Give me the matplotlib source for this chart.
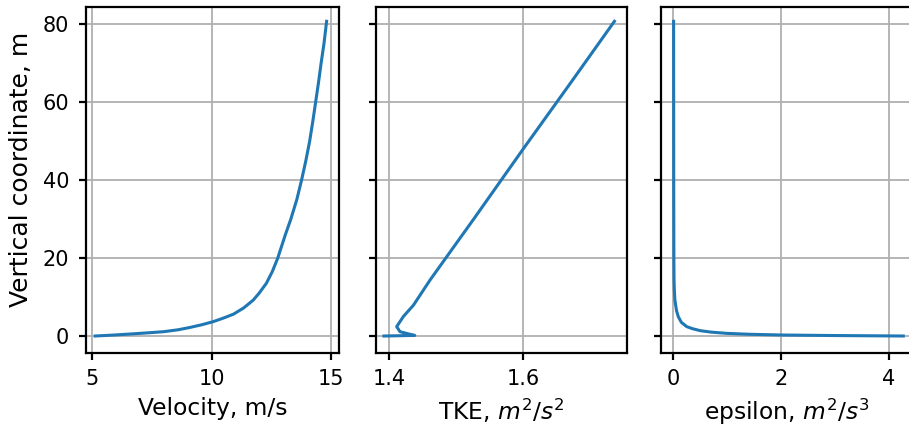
import matplotlib
matplotlib.use("Agg")
import matplotlib.pyplot as plt

# Velocity profile (height m, velocity m/s)
z_vel = [0.0, 0.25, 0.51, 0.8, 1.1, 1.6, 2.2, 2.9, 3.7, 4.6, 5.6, 7.2, 9.2, 11.0, 13.5,
         16.5, 20.0, 26.0, 30.0, 35.0, 40.0, 45.0, 50.0, 55.0, 60.0, 65.0, 70.0, 75.0, 80.7]
velocity = [5.12, 5.9, 6.58, 7.3, 7.98, 8.6, 9.10, 9.6, 10.08, 10.5, 10.92, 11.35, 11.75, 12.0, 12.3,
            12.55, 12.78, 13.1, 13.33, 13.58, 13.78, 13.96, 14.12, 14.25, 14.37, 14.49, 14.6, 14.72, 14.83]

# TKE profile (height m, k m2/s2)
z_tke = [0.0, 0.15, 0.4, 1.1, 2.4, 5.0, 7.9, 14.4, 30.0, 48.0, 65.0, 80.7]
tke = [1.392, 1.438, 1.432, 1.416, 1.411, 1.421, 1.436, 1.461, 1.526, 1.600, 1.671, 1.736]

# Dissipation profile (height m, epsilon m2/s3)
z_eps = [0.0, 0.12, 0.26, 0.45, 0.68, 1.0, 1.37, 1.9, 2.4, 3.5, 4.95, 6.5, 9.2, 12.0, 14.4,
         20.0, 40.0, 60.0, 80.7]
epsilon = [4.27, 3.0, 2.0, 1.4, 0.99, 0.7, 0.5, 0.35, 0.25, 0.15, 0.093, 0.06, 0.03, 0.019, 0.014,
           0.011, 0.008, 0.007, 0.006]

y_ticks = [0, 20, 40, 60, 80]
vel_ticks = [5, 10, 15]
tke_ticks = [1.4, 1.6]
eps_ticks = [0, 2, 4]

TICK_FS = 15
XLAB_FS = 16.8
YLAB_FS = 18
plt.rcParams['font.family'] = ['DejaVu Sans']

fig = plt.figure(figsize=(9.09, 4.28), dpi=100)
W, H = 909, 428
bottom = (H - 352.7) / H
height = (352.7 - 6.7) / H

ax1 = fig.add_axes([85.7 / W, bottom, 253.3 / W, height])
ax2 = fig.add_axes([375.7 / W, bottom, 251 / W, height])
ax3 = fig.add_axes([661 / W, bottom, 252 / W, height])

color = '#1f77b4'
lw = 2.2
ax1.plot(velocity, z_vel, color=color, lw=lw)
ax2.plot(tke, z_tke, color=color, lw=lw)
ax3.plot(epsilon, z_eps, color=color, lw=lw)

ax1.set_xlim(4.72, 15.35)
ax2.set_xlim(1.3797, 1.7543)
ax3.set_xlim(-0.228, 4.45)

ax1.set_xticks(vel_ticks)
ax2.set_xticks(tke_ticks)
ax3.set_xticks(eps_ticks)

for ax in (ax1, ax2, ax3):
    ax.set_ylim(-4.28, 84.44)
    ax.set_yticks(y_ticks)
    ax.grid(True, color='#b0b0b0', lw=1.3)
    for s in ax.spines.values():
        s.set_linewidth(1.6)
    ax.tick_params(width=1.6, length=5, pad=7, labelsize=TICK_FS)

ax2.set_yticklabels([])
ax3.set_yticklabels([])

ax1.set_xlabel('Velocity, m/s', fontsize=XLAB_FS)
ax2.set_xlabel('TKE, $m^2/s^2$', fontsize=XLAB_FS)
ax3.set_xlabel('epsilon, $m^2/s^3$', fontsize=XLAB_FS)
for ax in (ax1, ax2, ax3):
    ax.xaxis.set_label_coords(0.5, -0.128)
ax1.set_ylabel('Vertical coordinate, m', fontsize=YLAB_FS)
ax1.yaxis.set_label_coords(-0.209, 0.53)

fig.savefig('out.png', dpi=100)
